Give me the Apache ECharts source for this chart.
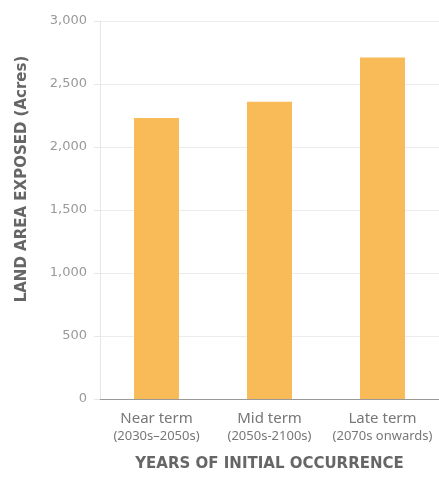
<!DOCTYPE html>
<html><head><meta charset="utf-8">
<script src="https://cdn.jsdelivr.net/npm/echarts@6/dist/echarts.min.js"></script>
<style>html,body{margin:0;padding:0;background:#fff}#c{width:439px;height:477px}</style>
</head><body><div id="c"></div>
<script>
var categories = ['Near term', 'Mid term', 'Late term'];
var subLabels = ['(2030s–2050s)', '(2050s-2100s)', '(2070s onwards)'];
var values = [2230, 2360, 2710];
var yTicks = [0, 500, 1000, 1500, 2000, 2500, 3000];
var xTitle = 'YEARS OF INITIAL OCCURRENCE';
var yTitle = 'LAND AREA EXPOSED (Acres)';

var chart = echarts.init(document.getElementById('c'));
chart.setOption({
  animation: false,
  grid: {left: 100, right: -3, top: 21, bottom: 78},
  graphic: [{
    type: 'text', x: 22, y: 179, rotation: Math.PI / 2,
    style: {text: yTitle, fill: '#666', font: 'bold 15px "DejaVu Sans"', align: 'center', verticalAlign: 'middle'}
  }],
  xAxis: {
    type: 'category',
    data: categories.map(function(c, i){ return c + '\n{s|' + subLabels[i] + '}'; }),
    axisLine: {lineStyle: {color: '#999', width: 1}},
    axisTick: {show: false},
    axisLabel: {interval: 0, color: '#777', fontSize: 15, fontFamily: 'Noto Sans', lineHeight: 18, margin: 11,
      rich: {s: {fontSize: 13, color: '#777', fontFamily: 'Noto Sans', lineHeight: 16}}},
    name: xTitle,
    nameLocation: 'middle',
    nameGap: 58,
    nameTextStyle: {color: '#666', fontSize: 15, fontWeight: 'bold', fontFamily: 'DejaVu Sans'}
  },
  yAxis: {
    type: 'value', min: 0, max: 3000, interval: 500,
    axisLine: {show: true, lineStyle: {color: '#e6e6e6'}},
    axisTick: {show: true, length: 6, lineStyle: {color: '#e6e6e6'}},
    splitLine: {lineStyle: {color: '#ececec'}},
    axisLabel: {color: '#999', fontSize: 13, fontFamily: 'DejaVu Sans', margin: 13,
      formatter: function(v){ return v.toLocaleString('en-US'); }}
  },
  series: [{
    type: 'bar',
    data: values,
    barWidth: 45,
    itemStyle: {color: '#f9bb57'}
  }]
});
</script></body></html>
